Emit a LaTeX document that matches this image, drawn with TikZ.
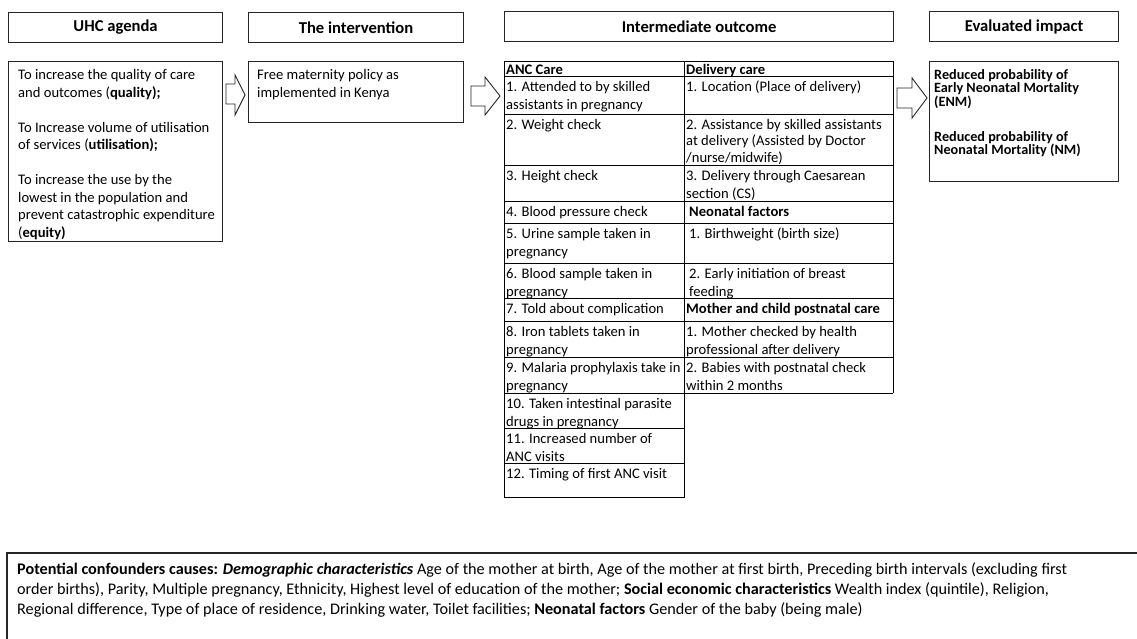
\documentclass[tikz,border=0pt]{standalone}
\usepackage{fontspec}
\setmainfont{Carlito}
\newcommand{\tstrut}{\rule{0pt}{11.5pt}}
\begin{document}
\begin{tikzpicture}[x=1pt,y=-1pt,
  bx/.style={draw=black!85, line width=1.1pt, inner sep=0pt, anchor=north west},
  hd/.style={bx, font=\fontsize{16.6}{18}\selectfont\bfseries, minimum height=30},
  txt/.style={anchor=north west, inner sep=0pt, align=left, font=\fontsize{14.6}{17.5}\selectfont},
  imp/.style={anchor=north west, inner sep=0pt, align=left, font=\fontsize{14.2}{13.3}\selectfont\bfseries},
  cell/.style={txt},
  gridline/.style={draw=black, line width=0.9pt},
  blk/.style={draw=black!85, line width=0.9pt, fill=white, line join=miter}
]
\useasboundingbox (0,0) rectangle (1137,639);

% headers
\node[hd, minimum width=214] (h1) at (8,12) {UHC agenda};
\node[hd, minimum width=215] (h2) at (248,12) {The intervention};
\node[hd, minimum width=389] (h3) at (504,11) {Intermediate outcome};
\node[hd, minimum width=189] (h4) at (929,11) {Evaluated impact};

% body boxes
\node[bx, minimum width=214, minimum height=180] (b1) at (8,61) {};
\node[txt] (t1) at (18,68) {\tstrut To increase the quality of care\\
and outcomes (\textbf{quality);}\\[17.5pt]
To Increase volume of utilisation\\
of services (\textbf{utilisation);}\\[17.5pt]
To increase the use by the\\
lowest in the population and\\
prevent catastrophic expenditure\\
(\textbf{equity)}};

\node[bx, minimum width=215, minimum height=61] (b2) at (248,61) {};
\node[txt] (t2) at (257,68) {\tstrut Free maternity policy as\\implemented in Kenya};

\node[bx, minimum width=189, minimum height=120] (b4) at (929,61) {};
\node[imp] (t4) at (934,68) {\tstrut Reduced probability of\\Early Neonatal Mortality\\(ENM)\\[21.7pt]
Reduced probability of\\Neonatal Mortality (NM)};

% block arrows
\draw[blk] (226,84) -- (235,84) -- (235,75) -- (245,95) -- (235,115) -- (235,104) -- (226,104) -- cycle;
\draw[blk] (471,86) -- (485,86) -- (485,77) -- (500,96) -- (485,115) -- (485,106) -- (471,106) -- cycle;
\draw[blk] (897,88) -- (912,88) -- (912,78) -- (927,98) -- (912,118) -- (912,108) -- (897,108) -- cycle;

% table grid
\draw[gridline] (504,61) -- (893,61) -- (893,393);
\draw[gridline] (504,61) -- (504,497) -- (684,497) -- (684,61);
\foreach \yy in {76,114,165,201,223,263,298,321,357,393}
  \draw[gridline] (504,\yy) -- (893,\yy);
\foreach \yy in {428,463}
  \draw[gridline] (504,\yy) -- (684,\yy);

% left column
\node[cell] (a0) at (506,62.5) {\tstrut\textbf{ANC Care}};
\node[cell] (a1) at (506,80) {\tstrut 1. Attended to by skilled\\assistants in pregnancy};
\node[cell] (a2) at (506,117.5) {\tstrut 2. Weight check};
\node[cell] (a3) at (506,169) {\tstrut 3. Height check};
\node[cell] (a4) at (506,205) {\tstrut 4. Blood pressure check};
\node[cell] (a5) at (506,227) {\tstrut 5. Urine sample taken in\\pregnancy};
\node[cell] (a6) at (506,267) {\tstrut 6. Blood sample taken in\\pregnancy};
\node[cell] (a7) at (506,302) {\tstrut 7. Told about complication};
\node[cell] (a8) at (506,325) {\tstrut 8. Iron tablets taken in\\pregnancy};
\node[cell] (a9) at (506,361) {\tstrut 9. Malaria prophylaxis take in\\pregnancy};
\node[cell] (a10) at (506,397) {\tstrut 10. Taken intestinal parasite\\drugs in pregnancy};
\node[cell] (a11) at (506,432) {\tstrut 11. Increased number of\\ANC visits};
\node[cell] (a12) at (506,467) {\tstrut 12. Timing of first ANC visit};

% right column
\node[cell] (d0) at (686,62.5) {\tstrut\textbf{Delivery care}};
\node[cell] (d1) at (686,80) {\tstrut 1. Location (Place of delivery)};
\node[cell, font=\fontsize{14.6}{16.5}\selectfont] (d2) at (686,117.5) {\tstrut 2. Assistance by skilled assistants\\at delivery (Assisted by Doctor\\/nurse/midwife)};
\node[cell] (d3) at (686,169) {\tstrut 3. Delivery through Caesarean\\section (CS)};
\node[cell] (n0) at (689,205) {\tstrut\textbf{Neonatal factors}};
\node[cell] (n1) at (689,227) {\tstrut 1. Birthweight (birth size)};
\node[cell] (n2) at (689,267) {\tstrut 2. Early initiation of breast\\feeding};
\node[cell] (m0) at (686,302) {\tstrut\textbf{Mother and child postnatal care}};
\node[cell] (m1) at (686,325) {\tstrut 1. Mother checked by health\\professional after delivery};
\node[cell] (m2) at (686,361) {\tstrut 2. Babies with postnatal check\\within 2 months};

% confounders box
\draw[draw=black!85, line width=1.1pt] (7,645) -- (7,553) -- (1145,553);
\node[anchor=north west, inner sep=0pt, align=left, font=\fontsize{16.2}{20}\selectfont] (conf) at (17,562) {\tstrut\textbf{Potential confounders causes:} \textbf{\textit{Demographic characteristics}} Age of the mother at birth, Age of the mother at first birth, Preceding birth intervals (excluding first\\
order births), Parity, Multiple pregnancy, Ethnicity, Highest level of education of the mother; \textbf{Social economic characteristics} Wealth index (quintile), Religion,\\
Regional difference, Type of place of residence, Drinking water, Toilet facilities; \textbf{Neonatal factors} Gender of the baby (being male)};
\end{tikzpicture}
\end{document}
